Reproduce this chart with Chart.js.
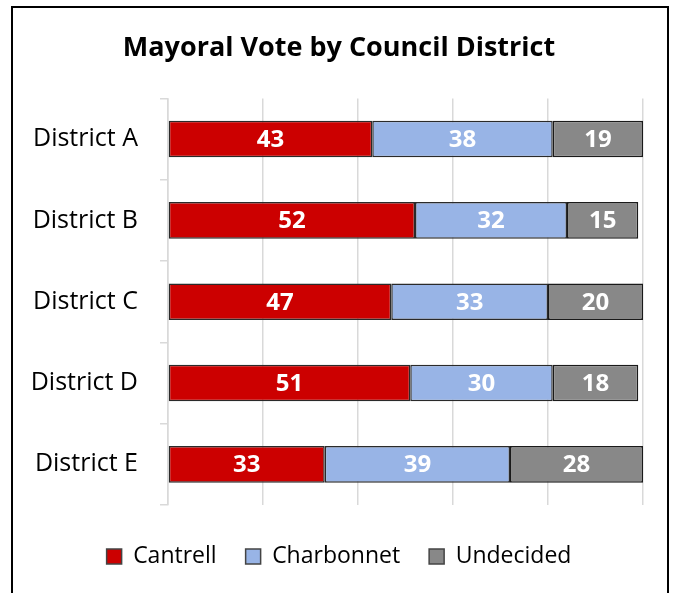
<!DOCTYPE html>
<html>
<head>
<meta charset="utf-8">
<script src="https://cdn.jsdelivr.net/npm/chart.js@4.4.1/dist/chart.umd.min.js"></script>
<style>
  html, body { margin: 0; padding: 0; background: #fff; }
  #wrap { position: relative; width: 678px; height: 593px; }
  #frame { position: absolute; left: 11px; top: 6px; width: 658px; height: 600px;
           border-left: 2px solid #000; border-top: 2px solid #000; border-right: 2px solid #000; box-sizing: border-box; }
  canvas { position: absolute; left: 0; top: 0; }
</style>
</head>
<body>
<div id="wrap">
  <div id="frame"></div>
  <canvas id="c" width="678" height="593"></canvas>
</div>
<script>
const categories = ["District A", "District B", "District C", "District D", "District E"];
const cantrell   = [43, 52, 47, 51, 33];
const charbonnet = [38, 32, 33, 30, 39];
const undecided  = [19, 15, 20, 18, 28];
const seriesNames = ["Cantrell", "Charbonnet", "Undecided"];
const xTicks = [0, 20, 40, 60, 80, 100];

const FONT = "'Open Sans', sans-serif";

const valueLabels = {
  id: 'valueLabels',
  afterDatasetsDraw(chart) {
    const ctx = chart.ctx;
    ctx.save();
    ctx.font = "bold 24px " + FONT;
    ctx.fillStyle = "#ffffff";
    ctx.textAlign = "center";
    ctx.textBaseline = "middle";
    chart.data.datasets.forEach((ds, i) => {
      const meta = chart.getDatasetMeta(i);
      meta.data.forEach((el, j) => {
        const p = el.getCenterPoint();
        ctx.fillText(String(ds.data[j]), p.x, p.y + 1);
      });
    });
    ctx.restore();
  }
};

new Chart(document.getElementById('c'), {
  type: 'bar',
  data: {
    labels: categories,
    datasets: [
      { label: seriesNames[0], data: cantrell,   backgroundColor: '#cc0000', borderColor: '#2a2a2a' },
      { label: seriesNames[1], data: charbonnet, backgroundColor: '#98b4e6', borderColor: '#2a2a2a' },
      { label: seriesNames[2], data: undecided,  backgroundColor: '#888888', borderColor: '#1a1a1a' }
    ]
  },
  options: {
    indexAxis: 'y',
    responsive: false,
    animation: false,
    devicePixelRatio: 1,
    layout: { padding: { left: 26, right: 26, top: 0, bottom: 15 } },
    datasets: {
      bar: { categoryPercentage: 1, barPercentage: 0.45, borderWidth: 1.5, borderSkipped: false }
    },
    scales: {
      x: {
        stacked: true, min: 0, max: 100,
        afterBuildTicks: (s) => { s.ticks = xTicks.map(v => ({ value: v })); },
        afterFit: (s) => { s.height = 11; },
        ticks: { display: false },
        grid: { color: '#d9d9d9', lineWidth: 1.5, drawTicks: false },
        border: { display: false }
      },
      y: {
        stacked: true,
        afterFit: (s) => { s.width = 142; },
        ticks: { color: '#000', font: { family: FONT, size: 25 }, padding: 22 },
        grid: { display: true, drawOnChartArea: false, drawTicks: true, tickLength: 8, offset: true, color: '#d9d9d9', lineWidth: 1.5 },
        border: { display: true, color: '#d9d9d9', width: 1.5 }
      },
      ySpacer: {
        type: 'linear', axis: 'y', position: 'right', display: true,
        afterFit: (s) => { s.width = 9; },
        ticks: { display: false },
        grid: { display: false },
        border: { display: false }
      }
    },
    plugins: {
      title: {
        display: true,
        text: 'Mayoral Vote by Council District',
        color: '#000',
        font: { family: FONT, size: 27, weight: 'bold' },
        padding: { top: 32, bottom: 34 }
      },
      legend: {
        position: 'bottom',
        labels: {
          color: '#000',
          font: { family: FONT, size: 23 },
          boxWidth: 15, boxHeight: 15,
          padding: 29,
          generateLabels: (chart) => chart.data.datasets.map((ds, i) => ({
            text: ds.label, fillStyle: ds.backgroundColor, strokeStyle: '#444', lineWidth: 1.5, datasetIndex: i, fontColor: '#000'
          }))
        }
      },
      tooltip: { enabled: false }
    }
  },
  plugins: [valueLabels]
});
</script>
</body>
</html>
